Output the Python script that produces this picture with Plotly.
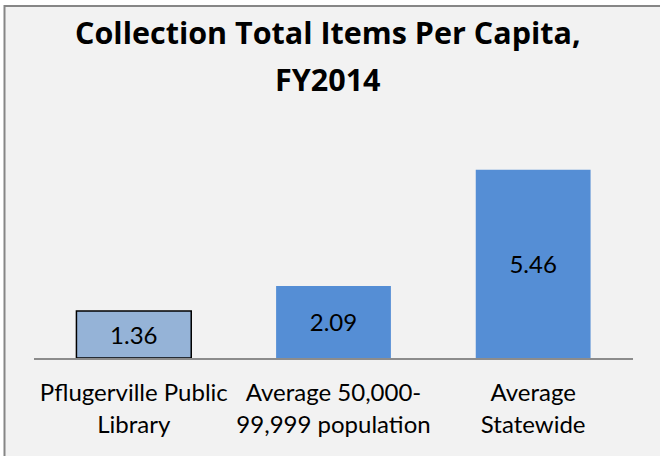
import plotly.graph_objects as go

# ---- data ----
categories = ["Pflugerville Public<br>Library", "Average 50,000-<br>99,999 population", "Average<br>Statewide"]
values = [1.36, 2.09, 5.46]
value_labels = ["1.36", "2.09", "5.46"]
title_line1 = "Collection Total Items Per Capita,"
title_line2 = "FY2014"

# ---- layout geometry (pixels) ----
W, H = 660, 456
ML, MR, MT, MB = 34, 27, 151, 98
PW = W - ML - MR
PH = H - MT - MB

def px_x(px):
    return (px - ML) / PW

def px_y(py):
    return (H - MB - py) / PH

FONT = "Lato"
TITLE_FONT = "Open Sans"

fig = go.Figure()
fig.add_trace(go.Bar(
    x=categories,
    y=values,
    text=value_labels,
    textposition="inside",
    insidetextanchor="middle",
    textangle=0,
    constraintext="none",
    textfont=dict(family=FONT, size=24, color="#000000"),
    marker=dict(
        color=["#95b3d7", "#558ed5", "#558ed5"],
        line=dict(color=["#000000", "#558ed5", "#558ed5"], width=[1.5, 0, 0]),
    ),
    hoverinfo="skip",
))

fig.update_layout(
    width=W, height=H,
    margin=dict(l=ML, r=MR, t=MT, b=MB, pad=0),
    paper_bgcolor="#ffffff",
    plot_bgcolor="rgba(0,0,0,0)",
    showlegend=False,
    bargap=0.425,
    font=dict(family=FONT, color="#000000"),
    xaxis=dict(
        showgrid=False, zeroline=False,
        showline=True, linecolor="#8c8c8c", linewidth=1.5,
        ticks="", tickfont=dict(family=FONT, size=24, color="#000000"),
        ticklabelstandoff=13,
    ),
    yaxis=dict(
        range=[0, 6], showgrid=False, zeroline=False, showline=False,
        showticklabels=False, ticks="",
    ),
    shapes=[dict(
        type="rect", xref="paper", yref="paper", layer="below",
        x0=px_x(4.5), x1=px_x(670), y0=px_y(470), y1=px_y(6),
        fillcolor="#f2f2f2", line=dict(color="#868686", width=2),
    )],
    annotations=[
        dict(text=title_line1, xref="paper", yref="paper",
             x=px_x(328), y=px_y(32), xanchor="center", yanchor="middle",
             showarrow=False, font=dict(family=TITLE_FONT, size=30.5, color="#000000", weight="bold")),
        dict(text=title_line2, xref="paper", yref="paper",
             x=px_x(328), y=px_y(79), xanchor="center", yanchor="middle",
             showarrow=False, font=dict(family=TITLE_FONT, size=30.5, color="#000000", weight="bold")),
    ],
)

fig.write_html(
    "out.html",
    config={"displayModeBar": False, "staticPlot": True},
    post_script="document.body.style.margin='0';document.body.style.overflow='hidden';",
)
